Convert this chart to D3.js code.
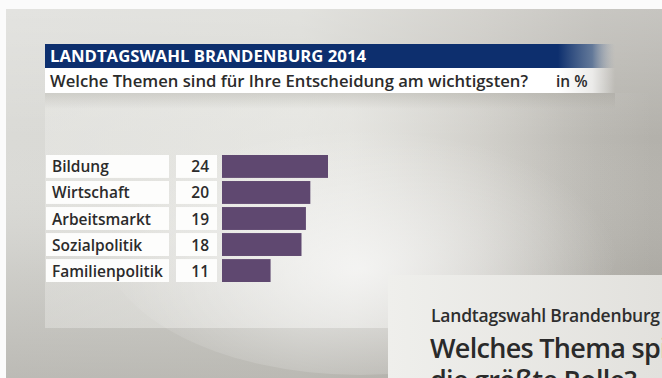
<!DOCTYPE html>
<html>
<head>
<meta charset="utf-8">
<script src="https://cdn.jsdelivr.net/npm/d3@7"></script>
<style>
  html, body { margin: 0; padding: 0; background: #fbfbfb; }
  svg { display: block; }
  text { font-family: "Open Sans", "Noto Sans", sans-serif; }
</style>
</head>
<body>
<div id="chart"></div>
<script>
// Survey: Landtagswahl Brandenburg 2014 – most important issues (in %)
const title = "LANDTAGSWAHL BRANDENBURG 2014";
const subtitle = "Welche Themen sind für Ihre Entscheidung am wichtigsten?";
const unitLabel = "in %";
const categories = ["Bildung", "Wirtschaft", "Arbeitsmarkt", "Sozialpolitik", "Familienpolitik"];
const values = [24, 20, 19, 18, 11];
const nextHeadline = ["Landtagswahl Brandenburg", "Welches Thema spielt", "die größte Rolle?"];

const W = 662, H = 378;
const svg = d3.select("#chart").append("svg").attr("width", W).attr("height", H);
const defs = svg.append("defs");

function linGrad(id, x1, y1, x2, y2, stops) {
  const g = defs.append("linearGradient").attr("id", id)
    .attr("x1", x1).attr("y1", y1).attr("x2", x2).attr("y2", y2);
  stops.forEach(([o, c, a]) => g.append("stop").attr("offset", o)
    .attr("stop-color", c).attr("stop-opacity", a == null ? 1 : a));
}

// studio backdrop
linGrad("bgH", 0, 0, 1, 0, [[0, "#dadad6"], [0.45, "#d8d8d3"], [0.72, "#c6c4be"], [0.9, "#b6b4ae"], [1, "#b3b1ab"]]);
linGrad("bgV", 0, 0, 0, 1, [[0, "#ffffff", 0.25], [0.35, "#ffffff", 0], [0.7, "#8e8b84", 0.15], [1, "#8e8b84", 0.4]]);
const glow = defs.append("radialGradient").attr("id", "glow")
  .attr("cx", 0.5).attr("cy", 0.62).attr("r", 0.5);
glow.append("stop").attr("offset", 0).attr("stop-color", "#ffffff").attr("stop-opacity", 0.65);
glow.append("stop").attr("offset", 0.6).attr("stop-color", "#ffffff").attr("stop-opacity", 0.25);
glow.append("stop").attr("offset", 1).attr("stop-color", "#ffffff").attr("stop-opacity", 0);

svg.append("rect").attr("x", 6).attr("y", 9).attr("width", W - 6).attr("height", H - 9).attr("fill", "url(#bgH)");
svg.append("rect").attr("x", 6).attr("y", 9).attr("width", W - 6).attr("height", H - 9).attr("fill", "url(#bgV)");

// chart panel
linGrad("panel", 0, 0, 1, 0, [[0, "#f2f2ef", 0.35], [0.5, "#f6f6f3", 0.5], [0.85, "#f6f6f3", 0.1], [1, "#f6f6f3", 0]]);
svg.append("rect").attr("x", 45).attr("y", 93).attr("width", 610).attr("height", 235).attr("fill", "url(#panel)");
svg.append("ellipse").attr("cx", 360).attr("cy", 235).attr("rx", 260).attr("ry", 140).attr("fill", "url(#glow)");
linGrad("shade", 0, 0, 0, 1, [[0, "#9a988f", 0.3], [1, "#9a988f", 0]]);
svg.append("rect").attr("x", 45).attr("y", 93).attr("width", 570).attr("height", 16).attr("fill", "url(#shade)");

// header bars
linGrad("blue", 0, 0, 1, 0, [[0, "#0d2f6e"], [0.9, "#0d2f6e"], [0.96, "#4a6690", 0.8], [1, "#9aa6b8", 0]]);
linGrad("white", 0, 0, 1, 0, [[0, "#ffffff"], [0.9, "#ffffff"], [0.96, "#ffffff", 0.7], [1, "#ffffff", 0]]);
svg.append("rect").attr("x", 45).attr("y", 44).attr("width", 570).attr("height", 24).attr("fill", "url(#blue)");
svg.append("rect").attr("x", 45).attr("y", 68).attr("width", 570).attr("height", 25).attr("fill", "url(#white)");

svg.append("text").attr("x", 50).attr("y", 62).attr("fill", "#ffffff")
  .attr("font-size", 15.5).attr("font-weight", 700)
  .attr("textLength", 316).attr("lengthAdjust", "spacingAndGlyphs").text(title);
svg.append("text").attr("x", 50).attr("y", 87).attr("fill", "#2b2b2b")
  .attr("font-size", 15.5).attr("font-weight", 600)
  .attr("textLength", 478).attr("lengthAdjust", "spacingAndGlyphs").text(subtitle);
svg.append("text").attr("x", 556).attr("y", 87).attr("fill", "#2b2b2b")
  .attr("font-size", 15.5).attr("font-weight", 600).text(unitLabel);

// scales
const y = d3.scaleBand().domain(categories).range([155, 282]).paddingInner(0.12);
const x = d3.scaleLinear().domain([0, 24]).range([222, 328]);

const rows = svg.append("g").selectAll("g").data(categories.map((c, i) => ({ c, v: values[i] })))
  .join("g");

rows.append("rect").attr("x", 46).attr("y", d => y(d.c)).attr("width", 123).attr("height", y.bandwidth())
  .attr("fill", "#fdfdfc");
rows.append("rect").attr("x", 176).attr("y", d => y(d.c)).attr("width", 41).attr("height", y.bandwidth())
  .attr("fill", "#fdfdfc");
rows.append("rect").attr("x", x(0)).attr("y", d => y(d.c)).attr("width", d => x(d.v) - x(0))
  .attr("height", y.bandwidth()).attr("fill", "#5f4870");

rows.append("text").attr("x", 52).attr("y", d => y(d.c) + y.bandwidth() / 2 + 6)
  .attr("fill", "#2b2b2b").attr("font-size", 15.5).attr("font-weight", 600).text(d => d.c);
rows.append("text").attr("x", 209).attr("y", d => y(d.c) + y.bandwidth() / 2 + 6)
  .attr("text-anchor", "end").attr("fill", "#2b2b2b").attr("font-size", 15.5).attr("font-weight", 600)
  .text(d => d.v);

// next slide peeking in at bottom right
linGrad("next", 0, 0, 1, 0, [[0, "#efefec"], [1, "#e2e1dd"]]);
svg.append("rect").attr("x", 388).attr("y", 275).attr("width", W - 388).attr("height", H - 275).attr("fill", "url(#next)");
svg.append("text").attr("x", 431).attr("y", 322).attr("fill", "#2e2e2e")
  .attr("font-size", 17.5).attr("font-weight", 600).attr("letter-spacing", -0.2).text(nextHeadline[0]);
svg.append("text").attr("x", 430).attr("y", 358).attr("fill", "#2a2a2a")
  .attr("font-size", 27).attr("font-weight", 600).attr("letter-spacing", -0.7).text(nextHeadline[1]);
svg.append("text").attr("x", 430).attr("y", 390).attr("fill", "#2a2a2a")
  .attr("font-size", 27).attr("font-weight", 600).attr("letter-spacing", -0.7).text(nextHeadline[2]);
</script>
</body>
</html>
